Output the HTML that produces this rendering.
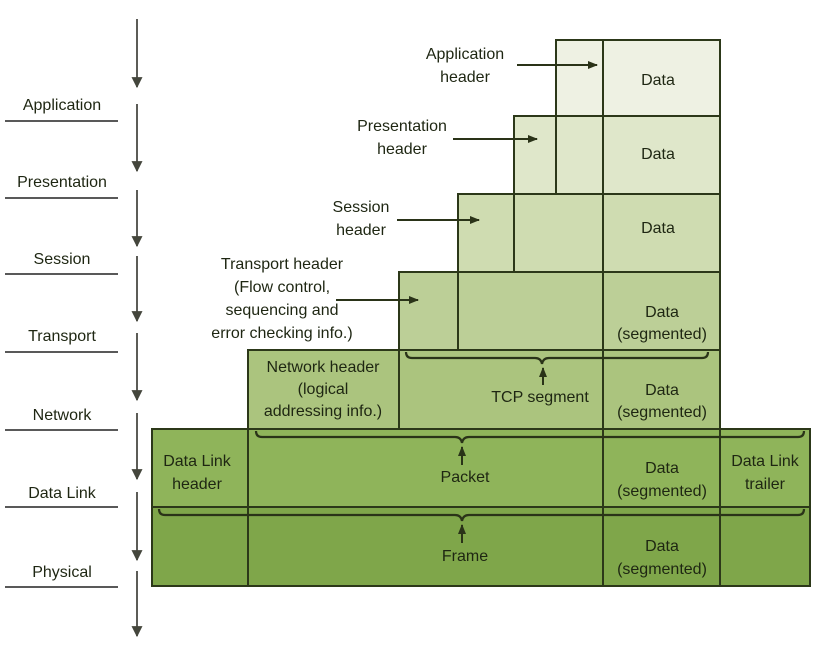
<!DOCTYPE html>
<html><head><meta charset="utf-8"><style>
html,body{margin:0;padding:0;background:#fff;}
svg{display:block;}
text{font-family:"Liberation Sans",sans-serif;font-size:16px;fill:#1e2612;}
</style></head><body>
<svg width="822" height="654" viewBox="0 0 822 654" xmlns="http://www.w3.org/2000/svg">
<defs>
<marker id="ah" viewBox="0 0 10 10" refX="9" refY="5" markerWidth="12" markerHeight="11" orient="auto" markerUnits="userSpaceOnUse">
<path d="M0,0 L10,5 L0,10 z" fill="#44463c"/></marker>
<marker id="ah2" viewBox="0 0 10 10" refX="9" refY="5" markerWidth="12" markerHeight="10" orient="auto" markerUnits="userSpaceOnUse">
<path d="M0,1 L10,5 L0,9 z" fill="#2a3318"/></marker>
</defs>
<rect width="822" height="654" fill="#fff"/>
<g stroke="#4a4a44" stroke-width="1.8">
<line x1="137" y1="19" x2="137" y2="87" marker-end="url(#ah)"/>
<line x1="137" y1="104" x2="137" y2="171" marker-end="url(#ah)"/>
<line x1="137" y1="190" x2="137" y2="246" marker-end="url(#ah)"/>
<line x1="137" y1="256" x2="137" y2="321" marker-end="url(#ah)"/>
<line x1="137" y1="333" x2="137" y2="400" marker-end="url(#ah)"/>
<line x1="137" y1="413" x2="137" y2="479" marker-end="url(#ah)"/>
<line x1="137" y1="492" x2="137" y2="560" marker-end="url(#ah)"/>
<line x1="137" y1="571" x2="137" y2="636" marker-end="url(#ah)"/>
</g>
<g stroke="#222" stroke-width="1.6">
<line x1="5" y1="121" x2="118" y2="121"/>
<line x1="5" y1="198" x2="118" y2="198"/>
<line x1="5" y1="274" x2="118" y2="274"/>
<line x1="5" y1="352" x2="118" y2="352"/>
<line x1="5" y1="430" x2="118" y2="430"/>
<line x1="5" y1="507" x2="118" y2="507"/>
<line x1="5" y1="587" x2="118" y2="587"/>
</g>
<g text-anchor="middle">
<text x="62" y="110">Application</text>
<text x="62" y="187">Presentation</text>
<text x="62" y="264">Session</text>
<text x="62" y="341">Transport</text>
<text x="62" y="420">Network</text>
<text x="62" y="498">Data Link</text>
<text x="62" y="577">Physical</text>
</g>
<g stroke="#2c3819" stroke-width="2">
<rect x="152" y="507" width="658" height="79" fill="#7fa64a"/>
<rect x="152" y="429" width="658" height="78" fill="#8fb45a"/>
<rect x="248" y="350" width="472" height="79" fill="#abc47e"/>
<rect x="399" y="272" width="321" height="78" fill="#bccf97"/>
<rect x="458" y="194" width="262" height="78" fill="#cfdcb1"/>
<rect x="514" y="116" width="206" height="78" fill="#dfe7ca"/>
<rect x="556" y="40" width="164" height="76" fill="#eef1e3"/>
<line x1="603" y1="40" x2="603" y2="586"/>
<line x1="556" y1="116" x2="556" y2="194"/>
<line x1="514" y1="194" x2="514" y2="272"/>
<line x1="458" y1="272" x2="458" y2="350"/>
<line x1="399" y1="350" x2="399" y2="429"/>
<line x1="248" y1="429" x2="248" y2="586"/>
<line x1="720" y1="429" x2="720" y2="586"/>
</g>
<g fill="none" stroke="#2a3318" stroke-width="2.2">
<path d="M406,352 q0,6 6,6 L535,358 q6,0 7,6 q1,-6 7,-6 L702,358 q6,0 6,-6"/>
<path d="M256,431 q0,6 6,6 L455,437 q6,0 7,6 q1,-6 7,-6 L798,437 q6,0 6,-6"/>
<path d="M159,509 q0,6 6,6 L455,515 q6,0 7,6 q1,-6 7,-6 L798,515 q6,0 6,-6"/>
</g>
<g stroke="#2a3318" stroke-width="2">
<line x1="543" y1="385" x2="543" y2="368" marker-end="url(#ah2)"/>
<line x1="462" y1="465" x2="462" y2="447" marker-end="url(#ah2)"/>
<line x1="462" y1="543" x2="462" y2="525" marker-end="url(#ah2)"/>
</g>
<g stroke="#2a3318" stroke-width="2">
<line x1="517" y1="65" x2="597" y2="65" marker-end="url(#ah2)"/>
<line x1="453" y1="139" x2="537" y2="139" marker-end="url(#ah2)"/>
<line x1="397" y1="220" x2="479" y2="220" marker-end="url(#ah2)"/>
<line x1="336" y1="300" x2="418" y2="300" marker-end="url(#ah2)"/>
</g>
<g text-anchor="middle">
<text x="465" y="59">Application</text>
<text x="465" y="82">header</text>
<text x="402" y="131">Presentation</text>
<text x="402" y="154">header</text>
<text x="361" y="212">Session</text>
<text x="361" y="235">header</text>
<text x="282" y="269">Transport header</text>
<text x="282" y="292">(Flow control,</text>
<text x="282" y="315">sequencing and</text>
<text x="282" y="338">error checking info.)</text>
<text x="658" y="85">Data</text>
<text x="658" y="159">Data</text>
<text x="658" y="233">Data</text>
<text x="662" y="317">Data</text>
<text x="662" y="339">(segmented)</text>
<text x="323" y="372">Network header</text>
<text x="323" y="394">(logical</text>
<text x="323" y="416">addressing info.)</text>
<text x="540" y="402">TCP segment</text>
<text x="662" y="395">Data</text>
<text x="662" y="417">(segmented)</text>
<text x="197" y="466">Data Link</text>
<text x="197" y="489">header</text>
<text x="465" y="482">Packet</text>
<text x="662" y="473">Data</text>
<text x="662" y="496">(segmented)</text>
<text x="765" y="466">Data Link</text>
<text x="765" y="489">trailer</text>
<text x="465" y="561">Frame</text>
<text x="662" y="551">Data</text>
<text x="662" y="574">(segmented)</text>
</g>
</svg>
</body></html>
